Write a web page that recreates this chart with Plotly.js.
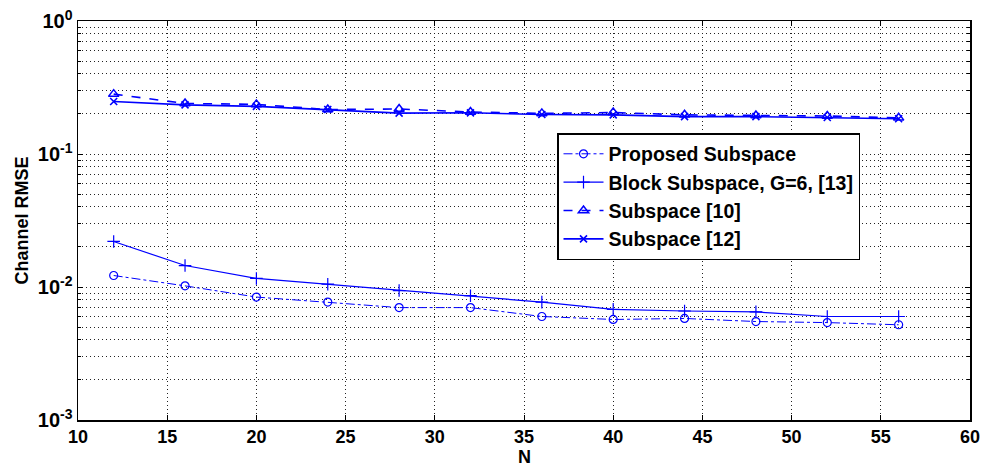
<!DOCTYPE html>
<html>
<head>
<meta charset="utf-8">
<script src="https://cdn.plot.ly/plotly-3.0.1.min.js"></script>
<style>html,body{margin:0;padding:0;background:#fff;}#chart{width:985px;height:466px;}</style>
</head>
<body>
<div id="chart"></div>
<script>
// Data
const N = [12, 16, 20, 24, 28, 32, 36, 40, 44, 48, 52, 56];
const proposedSubspace = [0.0122, 0.0102, 0.0084, 0.0077, 0.0070, 0.0070, 0.0060, 0.0057, 0.0058, 0.0055, 0.0054, 0.0052];
const blockSubspace = [0.0220, 0.0145, 0.0116, 0.0105, 0.0094, 0.0086, 0.0077, 0.0068, 0.0066, 0.0065, 0.0060, 0.0060];
const subspace10 = [0.282, 0.240, 0.236, 0.216, 0.218, 0.207, 0.202, 0.205, 0.197, 0.195, 0.193, 0.187];
const subspace12 = [0.248, 0.234, 0.228, 0.216, 0.203, 0.204, 0.198, 0.197, 0.191, 0.191, 0.188, 0.184];
const seriesNames = ["Proposed Subspace", "Block Subspace, G=6, [13]", "Subspace [10]", "Subspace [12]"];
const xTicks = [10, 15, 20, 25, 30, 35, 40, 45, 50, 55, 60];
const yMajorTicks = [1, 0.1, 0.01, 0.001];
const yMajorText = ["10<sup>0</sup>", "10<sup>-1</sup>", "10<sup>-2</sup>", "10<sup>-3</sup>"];
const xTitle = "N";
const yTitle = "Channel RMSE";
const yMinorTicks = [];
[0.001, 0.01, 0.1].forEach(d => { for (let k = 2; k <= 9; k++) yMinorTicks.push(+(d * k).toPrecision(3)); });

const blue = "rgb(0,0,255)";
const fontFam = "Liberation Sans, Arial, Helvetica, sans-serif";
const gridDash = "1px,3px";
const gridCol = "#222";

const traces = [
  {x: N, y: proposedSubspace, name: seriesNames[0], mode: "lines+markers",
   line: {color: blue, width: 1, dash: "dashdot"},
   marker: {symbol: "circle-open", size: 8, color: blue, line: {width: 1.2, color: blue}}},
  {x: N, y: blockSubspace, name: seriesNames[1], mode: "lines+markers",
   line: {color: blue, width: 1.2, dash: "solid"},
   marker: {symbol: "cross-thin-open", size: 9, color: blue, line: {width: 1.2, color: blue}}},
  {x: N, y: subspace10, name: seriesNames[2], mode: "lines+markers",
   line: {color: blue, width: 1.6, dash: "dash"},
   marker: {symbol: "triangle-up-open", size: 9, color: blue, line: {width: 1.5, color: blue}}},
  {x: N, y: subspace12, name: seriesNames[3], mode: "lines+markers",
   line: {color: blue, width: 1.6, dash: "solid"},
   marker: {symbol: "x-thin-open", size: 7, color: blue, line: {width: 1.6, color: blue}}}
];

const bold = (s) => ({family: fontFam, size: s, color: "#000", weight: "bold"});

const layout = {
  width: 985, height: 466,
  margin: {l: 78, r: 15, t: 21, b: 46},
  paper_bgcolor: "#fff", plot_bgcolor: "#fff",
  font: bold(19),
  showlegend: true,
  legend: {x: 0.537, y: 0.719, xanchor: "left", yanchor: "top",
    bgcolor: "#fff", bordercolor: "#000", borderwidth: 1.5,
    font: bold(19.5), tracegroupgap: 0, itemwidth: 40},
  xaxis: {
    range: [10, 60], tickmode: "array", tickvals: xTicks, ticktext: xTicks.map(String),
    showline: true, linecolor: "#000", linewidth: 1.5, mirror: "allticks",
    ticks: "inside", ticklen: 5, tickcolor: "#000",
    showgrid: true, gridcolor: gridCol, gridwidth: 1, griddash: gridDash,
    zeroline: false,
    tickfont: bold(18)
  },
  yaxis: {
    type: "log", range: [-3, 0],
    tickmode: "array", tickvals: yMajorTicks, ticktext: yMajorText,
    showline: true, linecolor: "#000", linewidth: 1.5, mirror: "allticks",
    ticks: "inside", ticklen: 5, tickcolor: "#000",
    showgrid: true, gridcolor: gridCol, gridwidth: 1, griddash: gridDash,
    minor: {tickmode: "array", tickvals: yMinorTicks, ticks: "inside", ticklen: 3, tickcolor: "#000",
            showgrid: true, gridcolor: gridCol, gridwidth: 1, griddash: gridDash},
    zeroline: false,
    tickfont: bold(20),
    title: {text: yTitle, font: bold(18), standoff: 4}
  },
  annotations: [
    {text: xTitle, xref: "paper", yref: "paper", x: 0.5, y: 0, yshift: -37,
     xanchor: "center", yanchor: "middle", showarrow: false, font: bold(18)}
  ]
};

Plotly.newPlot("chart", traces, layout, {displayModeBar: false, staticPlot: true});
</script>
</body>
</html>
